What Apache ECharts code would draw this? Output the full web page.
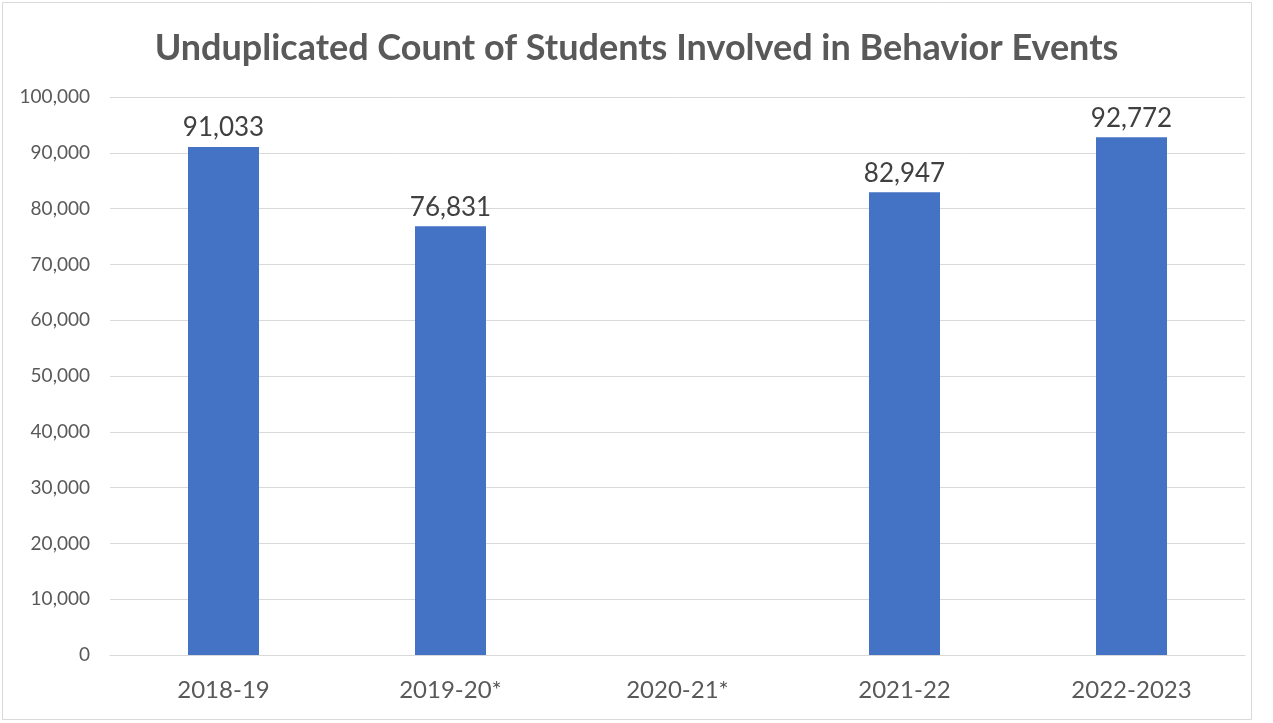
<!DOCTYPE html>
<html><head><meta charset="utf-8">
<script src="https://cdn.jsdelivr.net/npm/echarts@6/dist/echarts.min.js"></script>
<style>html,body{margin:0;padding:0;background:#fff}#c{width:1273px;height:723px}</style>
</head><body><div id="c"></div>
<script>
const categories = ['2018-19', '2019-20*', '2020-21*', '2021-22', '2022-2023'];
const values = [91033, 76831, null, 82947, 92772];
const titleText = 'Unduplicated Count of Students Involved in Behavior Events';

const chart = echarts.init(document.getElementById('c'));
const F = 'Lato, "Open Sans", sans-serif';
chart.setOption({
  animation: false,
  backgroundColor: '#fff',
  title: {
    text: titleText, left: 'center', top: 25,
    textStyle: {fontFamily: F, fontWeight: 'bold', fontSize: 36, color: '#595959'}
  },
  graphic: [{type: 'rect', shape: {x: 2.5, y: 2.5, width: 1249, height: 717}, style: {fill: 'none', stroke: '#d9d9d9', lineWidth: 1}}],
  grid: {left: 110, right: 28, top: 97, bottom: 68},
  xAxis: {
    type: 'category', data: categories,
    axisLine: {lineStyle: {color: '#d9d9d9'}}, axisTick: {show: false},
    axisLabel: {fontFamily: F, fontSize: 24, color: '#595959', margin: 23}
  },
  yAxis: {
    type: 'value', min: 0, max: 100000, interval: 10000,
    axisLine: {show: false}, axisTick: {show: false},
    splitLine: {lineStyle: {color: '#d9d9d9', width: 1}},
    axisLabel: {fontFamily: F, fontSize: 19, color: '#595959', margin: 20,
      formatter: v => v.toLocaleString('en-US')}
  },
  series: [{
    type: 'bar', data: values, barWidth: 71,
    itemStyle: {color: '#4472C4'},
    label: {show: true, position: 'top', distance: 6, fontFamily: F, fontSize: 26, color: '#404040',
      formatter: p => p.value == null ? '' : Number(p.value).toLocaleString('en-US')}
  }]
});
</script></body></html>
